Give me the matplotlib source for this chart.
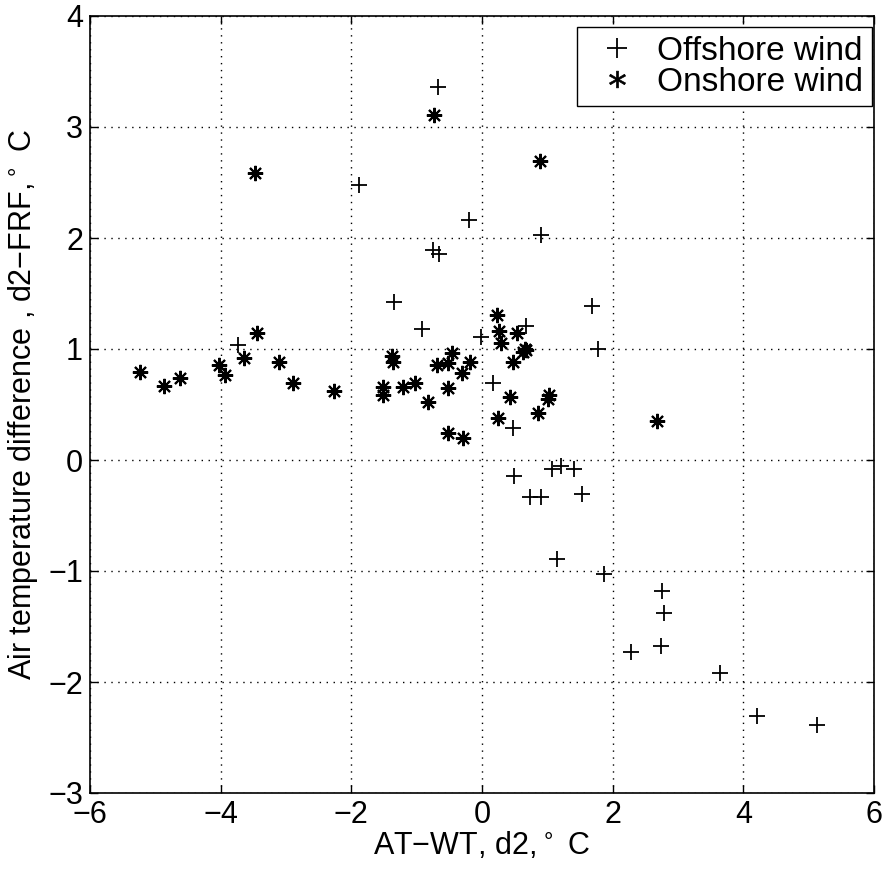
import matplotlib
matplotlib.use("Agg")
import matplotlib.pyplot as plt

plt.rcParams['font.family'] = ['Liberation Sans', 'DejaVu Sans']

# Offshore wind (+)
off_x = [-0.67, -0.20, 0.90, -0.75, -0.66, -1.88, -1.35, -0.92, -0.02, 0.67,
         0.17, 0.47, -3.73, 1.68, 1.77, 0.49, 0.73, 0.91, 1.07, 1.21, 1.41,
         1.53, 1.15, 1.87, 2.75, 2.78, 2.28, 2.74, 3.65, 4.21, 5.12]
off_y = [3.36, 2.16, 2.03, 1.89, 1.86, 2.48, 1.42, 1.18, 1.11, 1.21,
         0.69, 0.29, 1.04, 1.39, 1.00, -0.14, -0.33, -0.33, -0.08, -0.05, -0.08,
         -0.31, -0.89, -1.03, -1.18, -1.38, -1.73, -1.68, -1.92, -2.31, -2.39]

# Onshore wind (*)
on_x = [-0.73, 0.89, -3.47, 0.23, 0.26, 0.29, 0.54, 0.63, 0.66, 0.68, 0.47,
        0.43, 0.24, 1.02, 1.01, 0.86, -1.38, -1.36, -0.46, -0.69, -0.52, -0.18,
        -0.31, -1.51, -1.51, -1.21, -1.02, -0.52, -0.83, -0.52, -0.29, -5.24,
        -4.86, -4.63, -4.02, -3.94, -3.64, -3.44, -3.10, -2.89, -2.26, 2.68]
on_y = [3.11, 2.69, 2.59, 1.31, 1.16, 1.05, 1.14, 0.97, 1.00, 0.99, 0.88,
        0.57, 0.38, 0.59, 0.55, 0.42, 0.94, 0.88, 0.96, 0.86, 0.87, 0.88,
        0.78, 0.66, 0.59, 0.66, 0.69, 0.65, 0.52, 0.24, 0.20, 0.79,
        0.67, 0.74, 0.86, 0.77, 0.92, 1.14, 0.88, 0.69, 0.62, 0.35]

fig = plt.figure(figsize=(8.88, 8.71), dpi=100)
ax = fig.add_axes([90/888, 1-793/871, (874-90)/888, (793-16)/871])

ax.plot(off_x, off_y, linestyle='none', marker='+', markersize=12,
        markeredgewidth=1.3, color='black', label='Offshore wind')
ax.plot(on_x, on_y, linestyle='none', marker=(8, 2, 0), markersize=11,
        markeredgewidth=1.5, color='black', label='Onshore wind')

ax.set_xlim(-6, 6)
ax.set_ylim(-3, 4)
ax.set_xticks([-6, -4, -2, 0, 2, 4, 6])
ax.set_yticks([-3, -2, -1, 0, 1, 2, 3, 4])
ax.set_xticklabels(['\u22126', '\u22124', '\u22122', '0', '2', '4', '6'])
ax.set_yticklabels(['\u22123', '\u22122', '\u22121', '0', '1', '2', '3', '4'])
ax.tick_params(direction='in', top=True, right=True, labelsize=22, length=6, width=1, pad=5)
ax.grid(True, linestyle=(0, (1, 4)), color='black', linewidth=1)
for s in ax.spines.values():
    s.set_linewidth(1.2)

ax.set_xlabel('AT\u2212WT, d2,$^\\circ$ C', fontsize=22, labelpad=0)
ax.set_ylabel('Air temperature difference , d2\u2212FRF,$^\\circ$ C', fontsize=22, labelpad=6)

leg = ax.legend(loc='upper right', fontsize=24, frameon=True, fancybox=False,
                edgecolor='black', framealpha=1, borderpad=0.26, handletextpad=0.25,
                labelspacing=0.0, handlelength=1.9, borderaxespad=0,
                bbox_to_anchor=(872/888, 1-27/871), bbox_transform=fig.transFigure)
leg.get_frame().set_linewidth(1.0)
hs = leg.legend_handles
hs[0].set_markersize(14)
hs[1].set_marker('$*$')
hs[1].set_markersize(12)
hs[1].set_markeredgewidth(0.5)

fig.savefig('out.png', dpi=100)
